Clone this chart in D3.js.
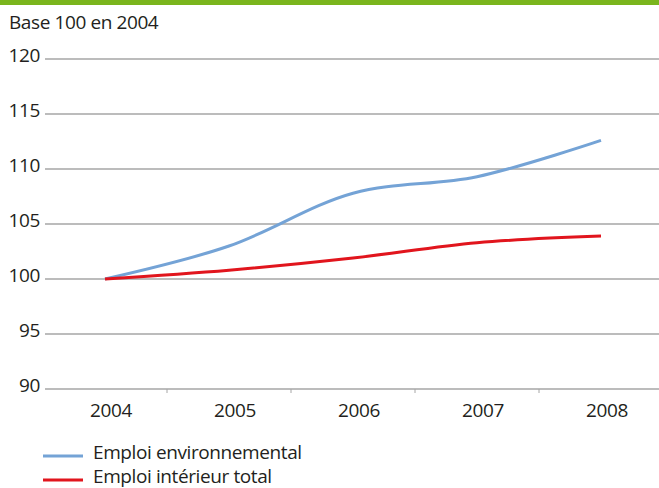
<!DOCTYPE html>
<html><head><meta charset="utf-8">
<script src="https://cdn.jsdelivr.net/npm/d3@7"></script>
<style>body{margin:0;background:#fff}svg{display:block}text{font-family:"Open Sans",sans-serif;fill:#231f20;letter-spacing:-0.4px}</style>
</head><body><svg id="c" width="659" height="488"></svg>
<script>
const years = ["2004","2005","2006","2007","2008"];
const emploiEnv = [100, 103.0, 107.8, 109.3, 112.6];
const emploiTotal = [100, 100.8, 101.9, 103.3, 103.9];
const yTicks = [90, 95, 100, 105, 110, 115, 120];
const seriesNames = ["Emploi environnemental", "Emploi intérieur total"];
const seriesColors = ["#74a3d6", "#e1151d"];
const FS = 19;

const svg = d3.select("#c");
svg.append("rect").attr("x",0).attr("y",0).attr("width",659).attr("height",5).attr("fill","#7ab51d");
svg.append("text").attr("x",9).attr("y",28.5).attr("font-size",FS).text("Base 100 en 2004");

const x = d3.scaleBand().domain(years).range([43, 663]);
const y = d3.scaleLinear().domain([90,120]).range([389,59]);

const grid = svg.append("g");
grid.selectAll("line").data(yTicks).join("line")
  .attr("x1",45).attr("x2",659).attr("y1",d=>y(d)).attr("y2",d=>y(d))
  .attr("stroke","#a6a6a6").attr("stroke-width",1.4);

const yAxis = svg.append("g").attr("transform","translate(45,0)")
  .call(d3.axisLeft(y).tickValues(yTicks).tickSize(0).tickPadding(5));
yAxis.select(".domain").remove();
yAxis.selectAll("text").attr("font-size",FS).attr("font-family","Open Sans").attr("fill","#231f20").attr("dy","0.15em");

const xAxis = svg.append("g").attr("transform","translate(0,389)")
  .call(d3.axisBottom(x).tickSize(0).tickPadding(14.5));
xAxis.select(".domain").remove();
xAxis.selectAll("text").attr("font-size",FS).attr("font-family","Open Sans").attr("fill","#231f20").attr("dx",6);
svg.append("g").selectAll("line").data(years).join("line")
  .attr("x1",d=>x(d)+x.bandwidth()).attr("x2",d=>x(d)+x.bandwidth())
  .attr("y1",389).attr("y2",393).attr("stroke","#a6a6a6").attr("stroke-width",1);

const line = d3.line().x((d,i)=>x(years[i])+x.bandwidth()/2).y(d=>y(d)).curve(d3.curveCatmullRom.alpha(0.5));
[emploiEnv, emploiTotal].forEach((s,i)=>{
  svg.append("path").attr("d",line(s)).attr("fill","none").attr("stroke",seriesColors[i]).attr("stroke-width",3);
});

const leg = svg.append("g");
seriesNames.forEach((n,i)=>{
  const yy = 456 + i*24;
  leg.append("line").attr("x1",43).attr("x2",83).attr("y1",yy).attr("y2",yy).attr("stroke",seriesColors[i]).attr("stroke-width",3);
  leg.append("text").attr("x",93).attr("y",yy+3).attr("font-size",FS).text(n);
});
</script></body></html>
